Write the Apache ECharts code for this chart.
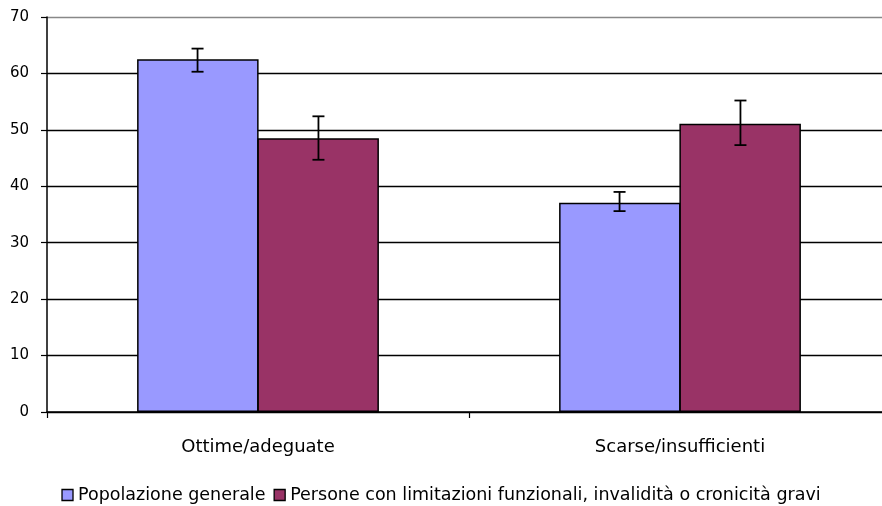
<!DOCTYPE html>
<html><head><meta charset="utf-8">
<script src="https://cdn.jsdelivr.net/npm/echarts@6/dist/echarts.min.js"></script>
<style>html,body{margin:0;padding:0;background:#fff}#c{width:882px;height:506px}</style>
</head><body><div id="c"></div>
<script>
var categories = ['Ottime/adeguate', 'Scarse/insufficienti'];
var seriesNames = ['Popolazione generale', 'Persone con limitazioni funzionali, invalidità o cronicità gravi'];
var popValues = [62.5, 37.1];
var popLow = [60.3, 35.6];
var popHigh = [64.4, 39.0];
var perValues = [48.5, 51.1];
var perLow = [44.7, 47.3];
var perHigh = [52.4, 55.2];
var yTicks = [0, 10, 20, 30, 40, 50, 60, 70];

var GAP = 0.427;
var FONT = 'DejaVu Sans';
function errSeries(low, high, idx) {
  var data = categories.map(function (c, i) { return [i, low[i], high[i]]; });
  return {
    type: 'custom', name: 'err' + idx, data: data, z: 10, silent: true,
    encode: { x: 0, y: [1, 2] },
    renderItem: function (params, api) {
      var i = api.value(0);
      var band = api.size([1, 0])[0];
      var off = (idx === 0 ? -1 : 1) * band * (1 - GAP) / 4;
      var lo = api.coord([i, api.value(1)]);
      var hi = api.coord([i, api.value(2)]);
      var x = lo[0] + off;
      var cap = 6;
      var st = { stroke: '#000', lineWidth: 1.8 };
      return { type: 'group', children: [
        { type: 'line', shape: { x1: x, y1: hi[1], x2: x, y2: lo[1] }, style: st },
        { type: 'line', shape: { x1: x - cap, y1: hi[1], x2: x + cap, y2: hi[1] }, style: st },
        { type: 'line', shape: { x1: x - cap, y1: lo[1], x2: x + cap, y2: lo[1] }, style: st }
      ]};
    }
  };
}
var chart = echarts.init(document.getElementById('c'));
chart.setOption({
  animation: false,
  grid: { left: 47, width: 844, top: 17, bottom: 94, containLabel: false, outerBoundsMode: 'none' },
  legend: {
    top: 481, left: 'center', itemWidth: 11, itemHeight: 11, itemGap: 8,
    icon: 'rect', data: seriesNames,
    textStyle: { fontFamily: FONT, fontSize: 17.5, color: '#000', padding: [0, 0, 0, 0] },
    itemStyle: { borderColor: '#000', borderWidth: 1.3 }
  },
  xAxis: {
    type: 'category', data: categories,
    axisLine: { lineStyle: { color: '#000', width: 1.5 } },
    axisTick: { show: true, length: 6, lineStyle: { color: '#000', width: 1.2 } },
    axisLabel: { fontFamily: FONT, fontSize: 18, color: '#000', margin: 26 }
  },
  yAxis: {
    type: 'value', min: 0, max: 70, interval: 10,
    axisLine: { show: true, lineStyle: { color: '#000', width: 1.5 } },
    axisTick: { show: true, length: 6, lineStyle: { color: '#000', width: 1.2 } },
    axisLabel: { fontFamily: FONT, fontSize: 15, color: '#000', margin: 18,
      formatter: function (v) { return yTicks.indexOf(v) >= 0 ? String(v) : ''; } },
    splitLine: { lineStyle: { color: ['#000', '#000', '#000', '#000', '#000', '#000', '#000', '#888'], width: 1.3 } }
  },
  series: [
    { type: 'bar', name: seriesNames[0], data: popValues, barGap: '-1%', barCategoryGap: (GAP * 100) + '%',
      itemStyle: { color: '#9999FF', borderColor: '#000', borderWidth: 1.5 } },
    { type: 'bar', name: seriesNames[1], data: perValues, barGap: '-1%', barCategoryGap: (GAP * 100) + '%',
      itemStyle: { color: '#993366', borderColor: '#000', borderWidth: 1.5 } },
    errSeries(popLow, popHigh, 0),
    errSeries(perLow, perHigh, 1)
  ]
});
</script></body></html>
